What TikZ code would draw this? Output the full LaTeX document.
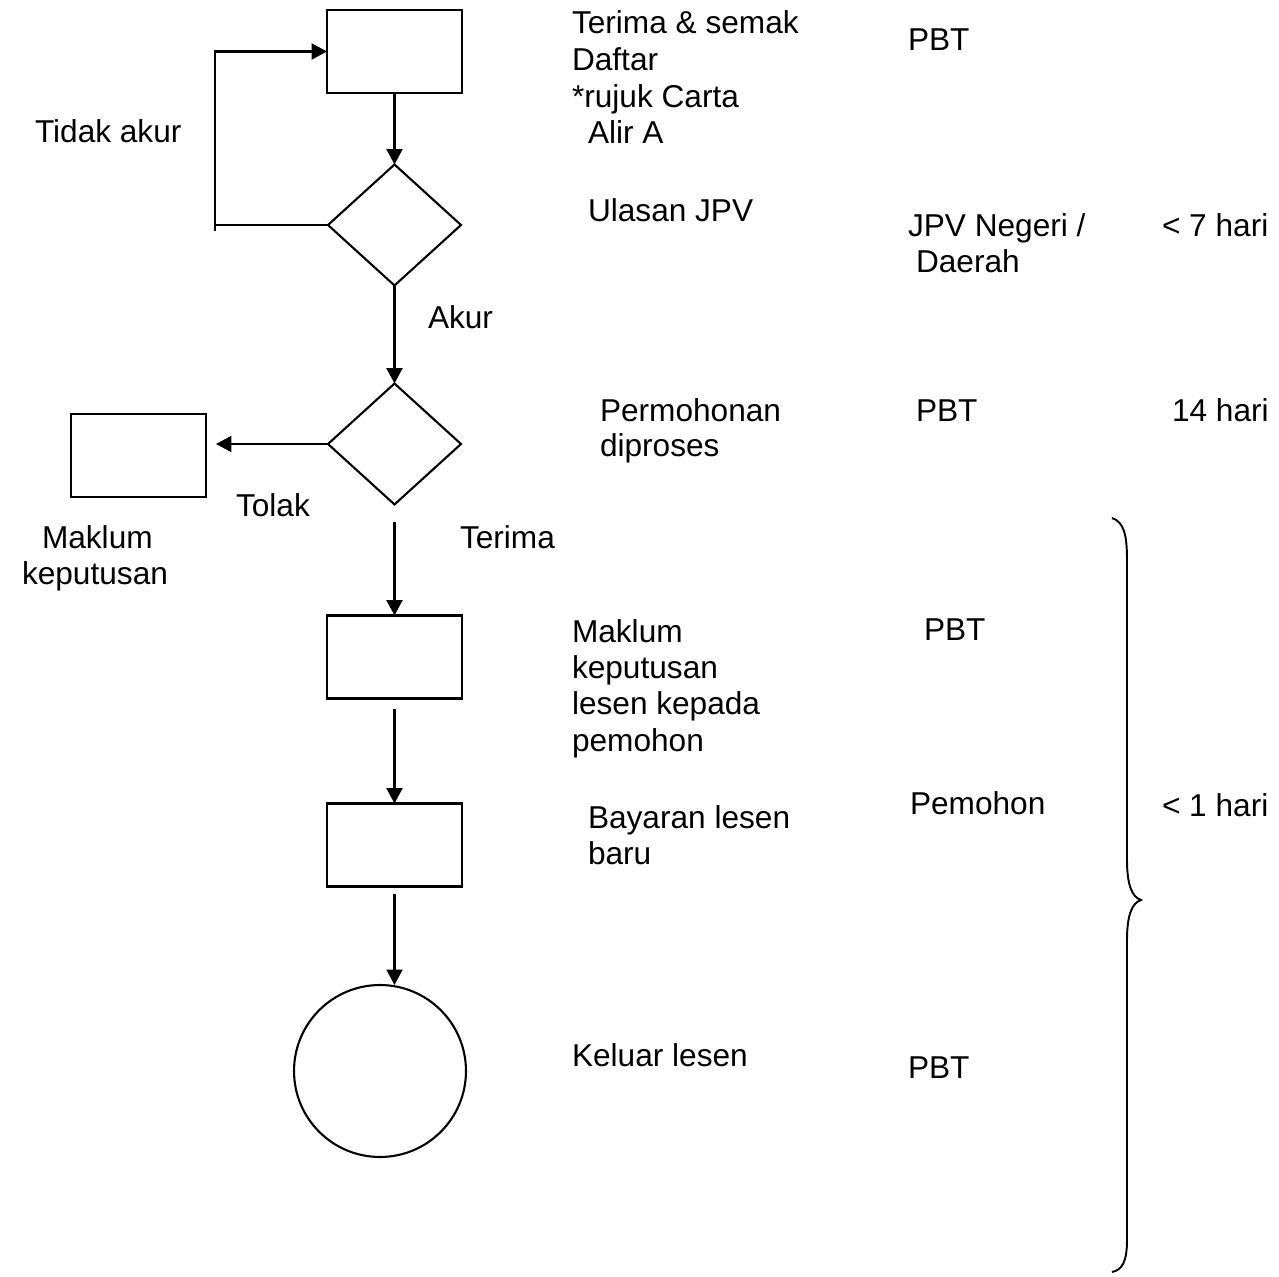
\documentclass[tikz,border=0pt]{standalone}
\usepackage{fontspec}
\setmainfont{Liberation Sans}
\usetikzlibrary{arrows.meta,shapes.geometric}
\begin{document}
\begin{tikzpicture}[x=0.02cm,y=-0.02cm,
  every node/.style={font=\fontsize{18}{21}\selectfont},
  lbl/.style={anchor=base west,inner sep=0pt,outer sep=0pt},
  boxn/.style={draw,line width=1.2pt,rectangle,inner sep=0pt,outer sep=0pt,minimum width=2.7cm,minimum height=1.66cm},
  dec/.style={draw,line width=1.2pt,diamond,inner sep=0pt,outer sep=0pt,minimum width=2.66cm,minimum height=2.42cm},
  endc/.style={draw,line width=1.2pt,circle,inner sep=0pt,outer sep=0pt,minimum size=3.44cm},
  ln/.style={line width=1.2pt},
  arr/.style={line width=1.2pt,-{Triangle[length=0.31cm,width=0.32cm]}}]
\useasboundingbox (0,0) rectangle (1279,1277);

% shapes
\node[boxn] (b1) at (394.5,51.5) {};
\node[dec] (d1) at (394.5,225) {};
\node[dec] (d2) at (394.5,444) {};
\node[boxn] (lb) at (138.5,455.5) {};
\node[boxn] (b3) at (394.5,657) {};
\node[boxn] (b4) at (394.5,845) {};
\node[endc] (c) at (380,1071) {};

% connectors
\coordinate (fb) at (215,225);
\coordinate (fbl) at (215,231);
\draw[arr] (b1.south) -- (d1.north);
\draw[ln] (d1.west) -- (fb);
\draw[arr] (fbl) |- (b1.west);
\draw[arr] (d1.south) -- (d2.north);
\draw[arr,shorten >=0.2cm] (d2.west) -- (d2.west -| lb.east);
\draw[arr,shorten <=0.36cm] (d2.south) -- (b3.north);
\draw[arr,shorten <=0.22cm] (b3.south) -- (b4.north);
\draw[arr,shorten <=0.16cm] (b4.south) -- (b4.south |- c.north);

% brace
\draw[line width=1.1pt] (1112,518) .. controls (1124,522) and (1127,535) .. (1127,560)
  -- (1127,860) .. controls (1127,885) and (1132,897) .. (1141,900)
  .. controls (1132,903) and (1127,915) .. (1127,940)
  -- (1127,1240) .. controls (1127,1262) and (1122,1270) .. (1112,1272);

% texts
\node[lbl] (t1a) at (572,34) {Terima \& semak};
\node[lbl] (t1b) at (572,71) {Daftar};
\node[lbl] (t1c) at (572,108) {*rujuk Carta};
\node[lbl] (t1d) at (588,144) {Alir A};
\node[lbl] (p1) at (908,51) {PBT};
\node[lbl] (ta) at (35,143) {Tidak akur};
\node[lbl] (t2) at (588,222) {Ulasan JPV};
\node[lbl] (p2a) at (908,237) {JPV Negeri /};
\node[lbl] (p2b) at (916,273) {Daerah};
\node[lbl] (h1) at (1162,237) {< 7 hari};
\node[lbl] (ak) at (428,329) {Akur};
\node[lbl] (t3a) at (600,421) {Permohonan};
\node[lbl] (t3b) at (600,457) {diproses};
\node[lbl] (p3) at (916,421) {PBT};
\node[lbl] (h2) at (1172,421) {14 hari};
\node[lbl] (tl) at (236,516) {Tolak};
\node[lbl] (mk1) at (42,548) {Maklum};
\node[lbl] (mk2) at (22,584) {keputusan};
\node[lbl] (tr) at (460,548) {Terima};
\node[lbl] (t4a) at (572,642) {Maklum};
\node[lbl] (t4b) at (572,678) {keputusan};
\node[lbl] (t4c) at (572,714) {lesen kepada};
\node[lbl] (t4d) at (572,751) {pemohon};
\node[lbl] (p4) at (924,640) {PBT};
\node[lbl] (t5a) at (588,828) {Bayaran lesen};
\node[lbl] (t5b) at (588,864) {baru};
\node[lbl] (p5) at (910,814) {Pemohon};
\node[lbl] (h3) at (1162,816) {< 1 hari};
\node[lbl] (t6) at (572,1066) {Keluar lesen};
\node[lbl] (p6) at (908,1078) {PBT};
\end{tikzpicture}
\end{document}
